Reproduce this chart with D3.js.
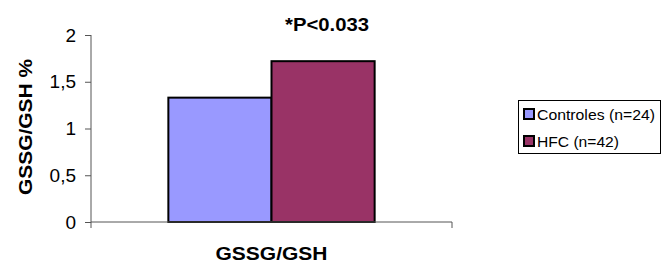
<!DOCTYPE html>
<html>
<head>
<meta charset="utf-8">
<script src="https://cdn.jsdelivr.net/npm/d3@7"></script>
<style>
  body { margin: 0; background: #fff; }
  svg { display: block; font-family: "Liberation Sans", Arial, sans-serif; }
</style>
</head>
<body>
<svg id="chart" width="661" height="267"></svg>
<script>
// data
var categories = ["GSSG/GSH"];
var seriesNames = ["Controles (n=24)", "HFC (n=42)"];
var seriesValues = [1.33, 1.72];
var seriesColors = ["#9999FF", "#993366"];
var yTicks = [0, 0.5, 1, 1.5, 2];

var svg = d3.select("#chart");

// plot edges (not "top": that name is taken by window.top)
var plotLeft = 91, plotRight = 452, plotTop = 35, plotBottom = 222;

var y = d3.scaleLinear().domain([0, 2]).range([plotBottom, plotTop]);
var x = d3.scaleBand().domain(categories).range([plotLeft, plotRight]);
var xs = d3.scaleBand().domain(seriesNames).range([0, x.bandwidth()])
  .paddingOuter(0.75).paddingInner(0);

var fmt = function (d) { return String(d).replace(".", ","); };

// bars
var g = svg.append("g");
g.selectAll("rect")
  .data(seriesValues)
  .enter().append("rect")
  .attr("x", function (d, i) { return x(categories[0]) + xs(seriesNames[i]); })
  .attr("y", function (d) { return y(d); })
  .attr("width", xs.bandwidth())
  .attr("height", function (d) { return plotBottom - y(d); })
  .attr("fill", function (d, i) { return seriesColors[i]; })
  .attr("stroke", "#000")
  .attr("stroke-width", 2);

// y axis
var yAxis = svg.append("g")
  .attr("transform", "translate(" + plotLeft + ",0)")
  .call(d3.axisLeft(y).tickValues(yTicks).tickFormat(fmt).tickSize(6).tickPadding(9));
yAxis.select(".domain").attr("stroke", "#555").attr("d", "M0," + plotTop + "V" + plotBottom);
yAxis.selectAll(".tick line").attr("stroke", "#555");
yAxis.selectAll("text").attr("font-size", 19).attr("fill", "#000")
  .attr("font-family", "Liberation Sans, Arial, sans-serif");

// x axis (category ticks at band edges)
var xAxis = svg.append("g");
xAxis.append("line")
  .attr("x1", plotLeft).attr("x2", plotRight)
  .attr("y1", plotBottom).attr("y2", plotBottom)
  .attr("stroke", "#555");
xAxis.selectAll(".edge")
  .data([plotLeft, plotRight])
  .enter().append("line")
  .attr("x1", function (d) { return d; }).attr("x2", function (d) { return d; })
  .attr("y1", plotBottom).attr("y2", plotBottom + 6)
  .attr("stroke", "#555");

// category label
svg.append("text")
  .attr("x", x(categories[0]) + x.bandwidth() / 2)
  .attr("y", 260)
  .attr("text-anchor", "middle")
  .attr("font-weight", "bold")
  .attr("font-size", 18.5)
  .attr("textLength", 112)
  .attr("lengthAdjust", "spacingAndGlyphs")
  .text(categories[0]);

// y title
svg.append("text")
  .attr("transform", "translate(32,127) rotate(-90)")
  .attr("text-anchor", "middle")
  .attr("font-weight", "bold")
  .attr("font-size", 19)
  .attr("textLength", 136)
  .attr("lengthAdjust", "spacingAndGlyphs")
  .text("GSSG/GSH %");

// p value
svg.append("text")
  .attr("x", 327)
  .attr("y", 31)
  .attr("text-anchor", "middle")
  .attr("font-weight", "bold")
  .attr("font-size", 18.5)
  .attr("textLength", 84)
  .attr("lengthAdjust", "spacingAndGlyphs")
  .text("*P<0.033");

// legend
var legend = svg.append("g").attr("transform", "translate(518,100)");
legend.append("rect")
  .attr("x", 0.5).attr("y", 0.5)
  .attr("width", 142).attr("height", 53)
  .attr("fill", "#fff").attr("stroke", "#000");
var items = legend.selectAll(".item")
  .data(seriesNames)
  .enter().append("g")
  .attr("transform", function (d, i) { return "translate(0," + (14 + i * 27) + ")"; });
items.append("rect")
  .attr("x", 6).attr("y", -5)
  .attr("width", 10).attr("height", 10)
  .attr("fill", function (d, i) { return seriesColors[i]; })
  .attr("stroke", "#000").attr("stroke-width", 2);
items.append("text")
  .attr("x", 19).attr("y", 5.5)
  .attr("font-size", 14.5)
  .attr("textLength", function (d, i) { return i === 0 ? 118 : 82; })
  .attr("lengthAdjust", "spacingAndGlyphs")
  .text(function (d) { return d; });
</script>
</body>
</html>
